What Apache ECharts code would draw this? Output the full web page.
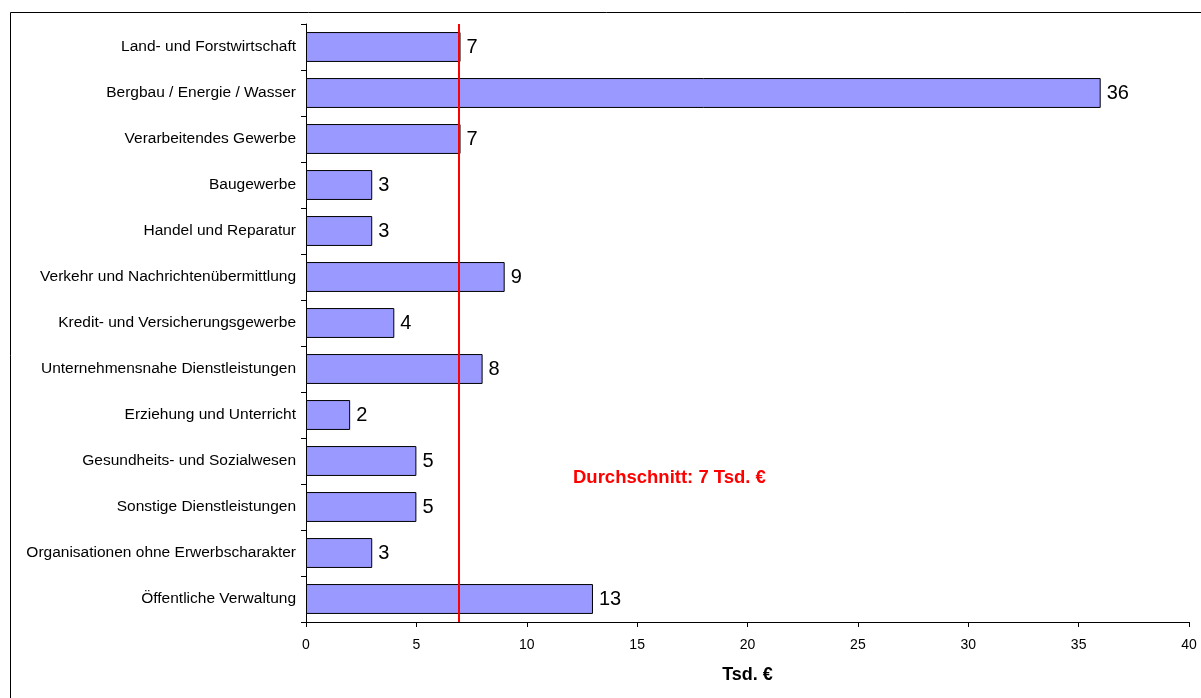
<!DOCTYPE html>
<html><head><meta charset="utf-8">
<script src="https://cdn.jsdelivr.net/npm/echarts@6/dist/echarts.min.js"></script>
<style>html,body{margin:0;padding:0;background:#fff}#c{width:1201px;height:698px}</style>
</head><body><div id="c"></div>
<script>
const categories = ["Land- und Forstwirtschaft","Bergbau / Energie / Wasser","Verarbeitendes Gewerbe","Baugewerbe","Handel und Reparatur","Verkehr und Nachrichtenübermittlung","Kredit- und Versicherungsgewerbe","Unternehmensnahe Dienstleistungen","Erziehung und Unterricht","Gesundheits- und Sozialwesen","Sonstige Dienstleistungen","Organisationen ohne Erwerbscharakter","Öffentliche Verwaltung"];
const values = [7,36,7,3,3,9,4,8,2,5,5,3,13];
const average = 6.93;
const averageLabel = "Durchschnitt: 7 Tsd. €";
const axisName = "Tsd. €";

const chart = echarts.init(document.getElementById('c'));
chart.setOption({
  animation:false,
  backgroundColor:'#fff',
  textStyle:{fontFamily:'Liberation Sans, Arial, sans-serif'},
  grid:{left:306,top:24,width:883,height:598,containLabel:false},
  xAxis:{type:'value',min:0,max:40,interval:5,
    name:axisName,nameLocation:'middle',nameGap:44,
    nameTextStyle:{fontWeight:'bold',fontSize:18,color:'#000'},
    axisLine:{show:true,lineStyle:{color:'#000',width:1}},
    axisTick:{show:true,length:5,lineStyle:{color:'#000'}},
    axisLabel:{color:'#000',fontSize:14,margin:16},
    splitLine:{show:false}},
  yAxis:{type:'category',data:categories,inverse:true,
    axisLine:{show:true,lineStyle:{color:'#000',width:1}},
    axisTick:{show:true,length:5,lineStyle:{color:'#000'}},
    axisLabel:{color:'#000',fontSize:15.5,margin:10}},
  series:[{type:'bar',data:values,barCategoryGap:'35%',
    itemStyle:{color:'#9999FF',borderColor:'#000',borderWidth:1},
    label:{show:true,position:'right',distance:6,color:'#000',fontSize:20},
    markLine:{symbol:'none',silent:true,
      lineStyle:{color:'#FF0000',width:2,type:'solid'},
      label:{show:false},
      data:[{xAxis:average}]}}],
  graphic:[
    {type:'rect',shape:{x:10.5,y:12.5,width:1200,height:700},style:{fill:'none',stroke:'#000',lineWidth:1},z:-1},
    {type:'text',x:573,y:478,style:{text:averageLabel,fill:'#FF0000',verticalAlign:'middle',font:'bold 18.5px "Liberation Sans", Arial, sans-serif'}}
  ]
});
</script></body></html>
